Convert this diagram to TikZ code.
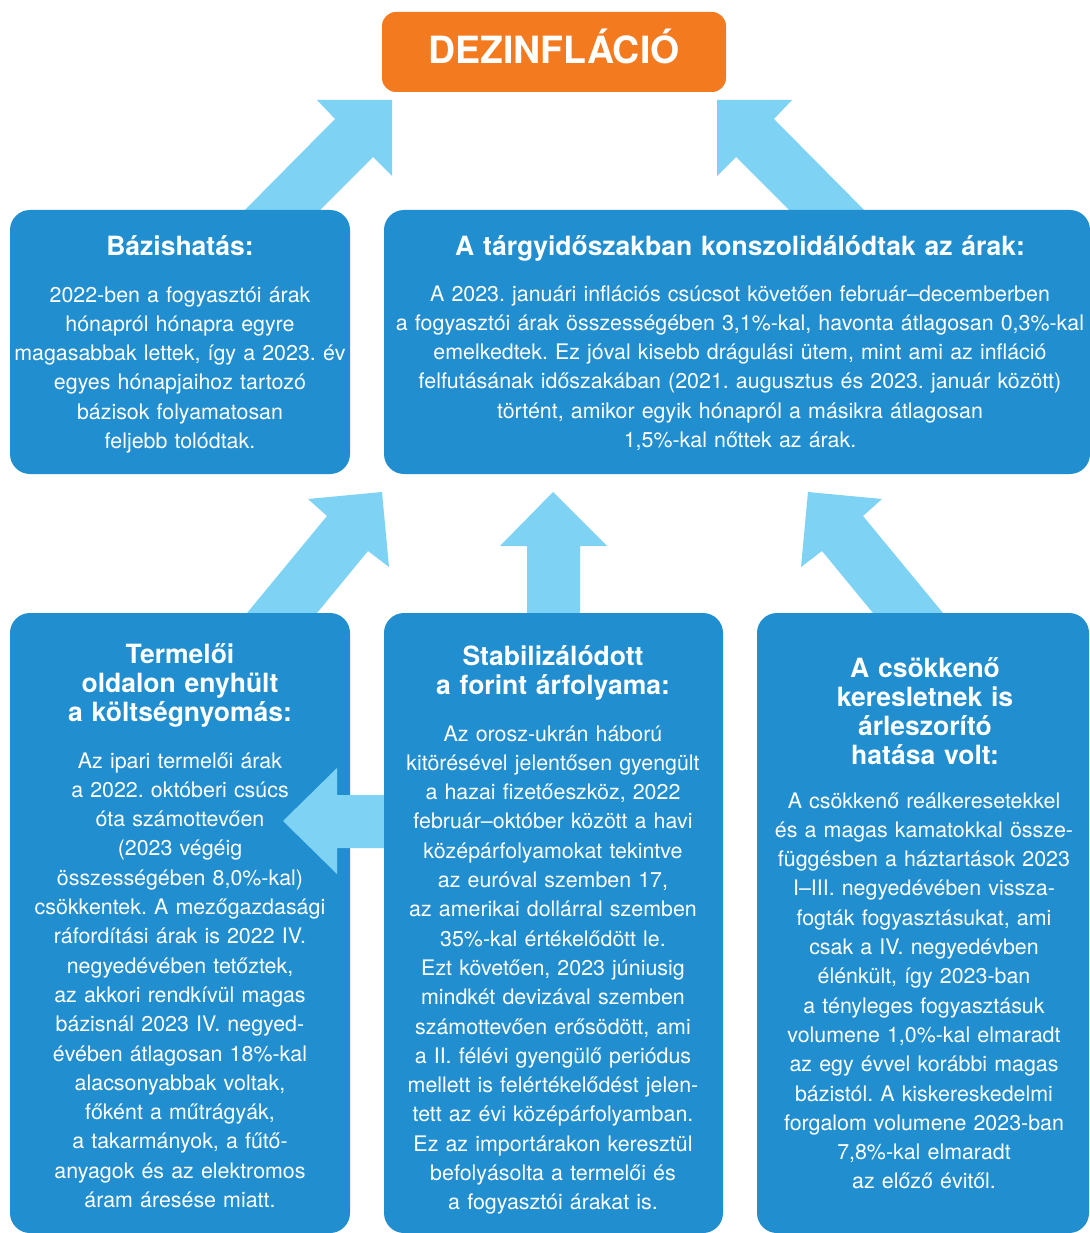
\documentclass[tikz,border=0pt]{standalone}
\usepackage{fontspec}
\setmainfont{TeX Gyre Heros}
\frenchspacing
\definecolor{boxblue}{RGB}{33,142,208}
\definecolor{arrowblue}{RGB}{126,211,245}
\definecolor{dorange}{RGB}{244,122,32}
\begin{document}
\frenchspacing
\begin{tikzpicture}[x=1pt,y=-1pt,
  panel/.style={fill=boxblue, rounded corners=20pt, draw=none, inner sep=0pt},
  arr/.style={fill=arrowblue},
  ttl/.style={text=white, font=\fontsize{26.5}{29}\selectfont\bfseries\frenchspacing, align=center, anchor=base, inner sep=0pt},
  bdy/.style={text=white, font=\fontsize{21.4}{29.3}\selectfont\frenchspacing, align=center, anchor=base, inner sep=0pt}
]
\useasboundingbox (0,0) rectangle (1089,1233);
\fill[white] (0,0) rectangle (1089,1233);

% top orange box
\node[fill=dorange, rounded corners=14pt, minimum width=344pt, minimum height=80pt, inner sep=0pt] (dez) at (554,52) {};
\node[text=white, font=\fontsize{37.5}{40}\selectfont\bfseries, anchor=base, inner sep=0pt] (dezt) at (554,64) {DEZINFLÁCIÓ};

% arrows up to the orange box
\fill[arr] (235,220) -- (335,119) -- (317,100) -- (392,100) -- (392,176) -- (373,157) -- (310,220) -- cycle;
\fill[arr] (874,220) -- (774,119) -- (792,100) -- (717,100) -- (717,176) -- (736,157) -- (799,220) -- cycle;

% arrows from bottom row to top row
\fill[arr] (238.8,623) -- (327,516) -- (308,499) -- (382,492) -- (389,567) -- (368,551) -- (308.8,623) -- cycle;
\fill[arr] (527,623) -- (527,546) -- (500,546) -- (553,492) -- (607,546) -- (580,546) -- (580,623) -- cycle;
\fill[arr] (951.2,623) -- (863,516) -- (882,499) -- (808,492) -- (801,567) -- (822,551) -- (881.2,623) -- cycle;

% top row boxes
\node[panel, minimum width=340pt, minimum height=264pt] (bazis) at (180,342) {};
\node[panel, minimum width=706pt, minimum height=264pt] (targy) at (737,342) {};

% bottom row boxes
\node[panel, minimum width=340pt, minimum height=620pt] (termel) at (180,923) {};
\fill[arr] (283,821) -- (337,768) -- (337,795) -- (390,795) -- (390,848) -- (337,848) -- (337,874) -- cycle;
\node[panel, minimum width=339pt, minimum height=620pt] (forint) at (553.5,923) {};
\node[panel, minimum width=332pt, minimum height=620pt] (kereslet) at (923,923) {};

% titles
\node[ttl, text width=340pt] (t1) at (180,255) {Bázishatás:};
\node[ttl, text width=700pt] (t2) at (740,255) {A tárgyidőszakban konszolidálódtak az árak:};
\node[ttl, text width=340pt] (t3) at (180,663) {Termelői\\oldalon enyhült\\a költségnyomás:};
\node[ttl, text width=340pt] (t4) at (553,665) {Stabilizálódott\\a forint árfolyama:};
\node[ttl, text width=330pt] (t5) at (925,677) {A csökkenő\\keresletnek is\\árleszorító\\hatása volt:};

% bodies
\node[bdy, text width=360pt] (x1) at (180,302) {2022-ben a fogyasztói árak\\hónapról hónapra egyre\\magasabbak lettek, így a 2023. év\\egyes hónapjaihoz tartozó\\bázisok folyamatosan\\feljebb tolódtak.};
\node[bdy, text width=720pt] (x2) at (740,301) {A 2023. januári inflációs csúcsot követően február–decemberben\\a fogyasztói árak összességében 3,1\%-kal, havonta átlagosan 0,3\%-kal\\emelkedtek. Ez jóval kisebb drágulási ütem, mint ami az infláció\\felfutásának időszakában (2021. augusztus és 2023. január között)\\történt, amikor egyik hónapról a másikra átlagosan\\1,5\%-kal nőttek az árak.};
\node[bdy, text width=340pt] (x3) at (180,768) {Az ipari termelői árak\\a 2022. októberi csúcs\\óta számottevően\\(2023 végéig\\összességében 8,0\%-kal)\\csökkentek. A mezőgazdasági\\ráfordítási árak is 2022 IV.\\negyedévében tetőztek,\\az akkori rendkívül magas\\bázisnál 2023 IV. negyed-\\évében átlagosan 18\%-kal\\alacsonyabbak voltak,\\főként a műtrágyák,\\a takarmányok, a fűtő-\\anyagok és az elektromos\\áram áresése miatt.};
\node[bdy, text width=340pt] (x4) at (553,741) {Az orosz-ukrán háború\\kitörésével jelentősen gyengült\\a hazai fizetőeszköz, 2022\\február–október között a havi\\középárfolyamokat tekintve\\az euróval szemben 17,\\az amerikai dollárral szemben\\35\%-kal értékelődött le.\\Ezt követően, 2023 júniusig\\mindkét devizával szemben\\számottevően erősödött, ami\\a II. félévi gyengülő periódus\\mellett is felértékelődést jelen-\\tett az évi középárfolyamban.\\Ez az importárakon keresztül\\befolyásolta a termelői és\\a fogyasztói árakat is.};
\node[bdy, text width=330pt] (x5) at (924,808) {A csökkenő reálkeresetekkel\\és a magas kamatokkal össze-\\függésben a háztartások 2023\\I–III. negyedévében vissza-\\fogták fogyasztásukat, ami\\csak a IV. negyedévben\\élénkült, így 2023-ban\\a tényleges fogyasztásuk\\volumene 1,0\%-kal elmaradt\\az egy évvel korábbi magas\\bázistól. A kiskereskedelmi\\forgalom volumene 2023-ban\\7,8\%-kal elmaradt\\az előző évitől.};
\end{tikzpicture}
\end{document}
